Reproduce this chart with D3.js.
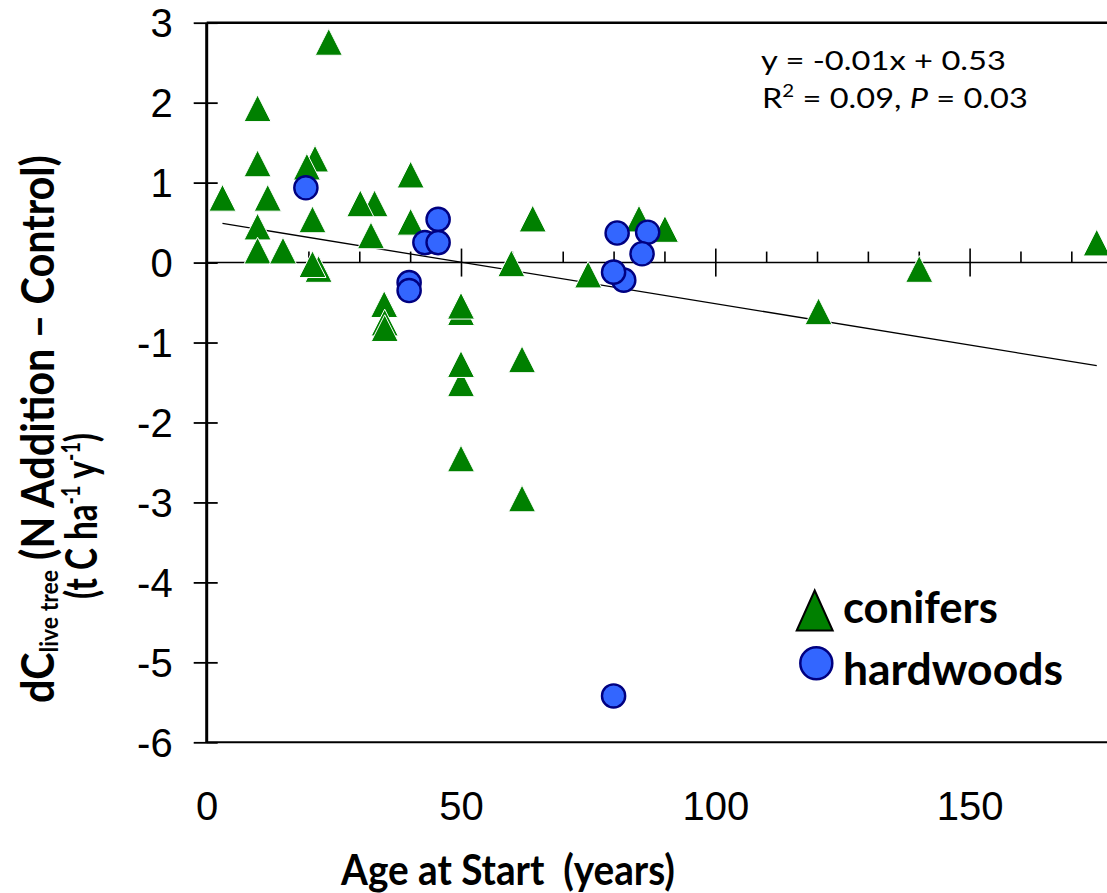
<!DOCTYPE html>
<html>
<head>
<meta charset="utf-8">
<script src="https://cdn.jsdelivr.net/npm/d3@7"></script>
<style>
  html, body { margin: 0; padding: 0; background: #fff; overflow: hidden; }
  svg { display: block; }
  text { white-space: pre; }
</style>
</head>
<body>
<svg></svg>
<script>
// conifers (triangles)
let coniferAge   = [3.1, 10, 10, 10, 10, 12, 15, 21.3, 19.7, 20.8, 22, 20.8, 24, 33, 30.2, 32.3, 34.9, 35, 35, 40.1, 40.1, 50, 50, 50, 50, 50, 59.9, 62, 62, 64.1, 75, 85, 90.1, 120.3, 140.1, 175];
let coniferDelta = [0.81, 1.93, 1.24, 0.45, 0.15, 0.81, 0.15, 1.30, 1.20, 0.54, -0.08, -0.02, 2.76, 0.74, 0.74, 0.34, -0.52, -0.75, -0.82, 1.10, 0.51, -0.62, -0.54, -1.51, -1.27, -2.45, -0.01, -1.21, -2.95, 0.55, -0.15, 0.55, 0.42, -0.61, -0.08, 0.25];

// hardwoods (circles)
let hardwoodAge   = [19.5, 39.8, 39.8, 42.9, 45.5, 45.5, 80.7, 86.7, 85.6, 82.0, 80.0, 80.0];
let hardwoodDelta = [0.935, -0.25, -0.35, 0.25, 0.54, 0.25, 0.37, 0.38, 0.11, -0.22, -0.12, -5.42];

// regression line end points
let trendAge   = [3.1, 175];
let trendDelta = [0.49, -1.29];

let xTicks = [0, 50, 100, 150];
let xMinorTicks = [10, 20, 30, 40, 50, 60, 70, 80, 90, 100, 110, 120, 130, 140, 150, 160, 170];
let yTicks = [-6, -5, -4, -3, -2, -1, 0, 1, 2, 3];

let width = 1107;
let height = 893;
let plotLeft = 206.7;
let plotTop = 22.7;
let plotBottom = 742.3;
let pxPerYear = 5.086;

let svg = d3.select('svg');
let xScale, yScale, xAxis, yAxis, zeroAxis;

const drawCanvas = () => {
    svg.attr('width', width)
       .attr('height', height);
};

const generateScales = () => {
    xScale = d3.scaleLinear()
               .domain([0, 180])
               .range([plotLeft, plotLeft + 180 * pxPerYear]);
    yScale = d3.scaleLinear()
               .domain([-6, 3])
               .range([plotBottom, plotTop]);
};

const generateAxes = () => {
    xAxis = d3.axisBottom(xScale).tickValues(xTicks).tickSize(0).tickFormat(d => String(d));
    yAxis = d3.axisLeft(yScale).tickValues(yTicks).tickSize(13).tickFormat(d => String(d));
    zeroAxis = d3.axisBottom(xScale).tickValues(xMinorTicks).tickSize(0).tickFormat('');
};

const drawFrame = () => {
    // plot border (right side falls outside the picture)
    svg.append('line')
       .attr('x1', plotLeft).attr('x2', xScale(180))
       .attr('y1', plotTop).attr('y2', plotTop)
       .attr('stroke', '#000').attr('stroke-width', 2.5);
    svg.append('line')
       .attr('x1', plotLeft).attr('x2', xScale(180))
       .attr('y1', plotBottom).attr('y2', plotBottom)
       .attr('stroke', '#000').attr('stroke-width', 2);

    // labels of the x axis sit under the plot
    let gx = svg.append('g')
       .attr('transform', 'translate(0,' + plotBottom + ')')
       .call(xAxis);
    gx.select('.domain').remove();
    gx.selectAll('text')
      .attr('y', 78).attr('dy', 0)
      .attr('font-family', '"Liberation Sans", Arial, sans-serif')
      .attr('font-size', 40)
      .attr('fill', '#000');

    // axis through zero, minor ticks up, major ticks across
    let gz = svg.append('g')
       .attr('transform', 'translate(0,' + yScale(0) + ')')
       .call(zeroAxis);
    gz.select('.domain')
      .attr('d', 'M' + plotLeft + ',0H' + xScale(180))
      .attr('stroke', '#000').attr('stroke-width', 1.6);
    gz.selectAll('.tick line')
      .attr('stroke', '#000').attr('stroke-width', 1.6)
      .attr('y1', d => d % 50 === 0 ? -14 : -11)
      .attr('y2', d => d % 50 === 0 ? 14 : 0);

    let gy = svg.append('g')
       .attr('transform', 'translate(' + plotLeft + ',0)')
       .call(yAxis);
    gy.select('.domain')
      .attr('d', 'M0,' + plotTop + 'V' + plotBottom)
      .attr('stroke', '#000').attr('stroke-width', 3);
    gy.selectAll('.tick line')
      .attr('x1', 11).attr('x2', -13)
      .attr('stroke', '#000').attr('stroke-width', 1.8);
    gy.selectAll('text')
      .attr('x', -34).attr('dy', '0.35em')
      .attr('font-family', '"Liberation Sans", Arial, sans-serif')
      .attr('font-size', 40)
      .attr('fill', '#000');
};

const triangle = (w, h) => 'M0,' + (-h / 2) + 'L' + (w / 2) + ',' + (h / 2) + 'L' + (-w / 2) + ',' + (h / 2) + 'Z';

const drawPoints = () => {
    svg.append('line')
       .attr('x1', xScale(trendAge[0])).attr('y1', yScale(trendDelta[0]))
       .attr('x2', xScale(trendAge[1])).attr('y2', yScale(trendDelta[1]))
       .attr('stroke', '#000').attr('stroke-width', 1.3);

    svg.selectAll('path.conifer')
       .data(d3.range(coniferAge.length))
       .enter()
       .append('path')
       .attr('class', 'conifer')
       .attr('d', triangle(27, 26.7))
       .attr('transform', i => 'translate(' + xScale(coniferAge[i]) + ',' + yScale(coniferDelta[i]) + ')')
       .attr('fill', '#008000')
       .attr('stroke', '#fff')
       .attr('stroke-width', 1);

    svg.selectAll('circle.hardwood')
       .data(d3.range(hardwoodAge.length))
       .enter()
       .append('circle')
       .attr('class', 'hardwood')
       .attr('cx', i => xScale(hardwoodAge[i]))
       .attr('cy', i => yScale(hardwoodDelta[i]))
       .attr('r', 11.6)
       .attr('fill', '#3366ff')
       .attr('stroke', '#000080')
       .attr('stroke-width', 2.4);
};

// put a text group at x,y and squeeze it to the wanted length
const fit = (g, x, y, rot, target) => {
    let w = g.node().getBBox().width;
    g.attr('transform', 'translate(' + x + ',' + y + ') rotate(' + rot + ') scale(' + (target / w) + ',1)');
};

const drawTexts = () => {
    const lato = 'Lato, "Open Sans", sans-serif';

    // legend
    svg.append('path')
       .attr('d', triangle(36, 40))
       .attr('transform', 'translate(814.7,610.5)')
       .attr('fill', '#008000').attr('stroke', '#000').attr('stroke-width', 2);
    svg.append('circle')
       .attr('cx', 816.3).attr('cy', 663.3).attr('r', 16)
       .attr('fill', '#3366ff').attr('stroke', '#000080').attr('stroke-width', 2.5);

    let leg1 = svg.append('g');
    leg1.append('text').attr('font-family', lato).attr('font-weight', 700).attr('font-size', 43).text('conifers');
    fit(leg1, 843, 623.3, 0, 155);
    let leg2 = svg.append('g');
    leg2.append('text').attr('font-family', lato).attr('font-weight', 700).attr('font-size', 43).text('hardwoods');
    fit(leg2, 843, 685, 0, 220);

    // equation
    let eq1 = svg.append('g');
    eq1.append('text').attr('font-family', lato).attr('font-size', 27).attr('fill', '#000').text('y = -0.01x + 0.53');
    fit(eq1, 761, 70, 0, 245);

    let eq2 = svg.append('g');
    let t2 = eq2.append('text').attr('font-family', lato).attr('font-size', 27).attr('fill', '#000');
    t2.append('tspan').text('R');
    t2.append('tspan').attr('font-size', 17).attr('dy', -11).text('2');
    t2.append('tspan').attr('dy', 11).text(' = 0.09, ');
    t2.append('tspan').attr('font-style', 'italic').text('P');
    t2.append('tspan').text(' = 0.03');
    fit(eq2, 762, 108.3, 0, 266);

    // x title
    let xt = svg.append('g');
    xt.append('text').attr('font-family', lato).attr('font-weight', 700).attr('font-size', 42).attr('fill', '#000').text('Age at Start  (years)');
    fit(xt, 341, 885, 0, 335);

    // y title, two lines
    let yt1 = svg.append('g');
    let y1 = yt1.append('text').attr('font-family', lato).attr('font-weight', 700).attr('font-size', 45).attr('fill', '#000');
    y1.append('tspan').text('dC');
    y1.append('tspan').attr('font-size', 25).attr('dy', 4).text('live tree');
    y1.append('tspan').attr('dy', -4).text(' (N Addition \u2013 Control)');
    fit(yt1, 54, 703, -90, 548);

    let yt2 = svg.append('g');
    let y2 = yt2.append('text').attr('font-family', lato).attr('font-weight', 700).attr('font-size', 44).attr('fill', '#000');
    y2.append('tspan').text('(t C ha');
    y2.append('tspan').attr('font-size', 26).attr('dy', -17).text('-1');
    y2.append('tspan').attr('dy', 17).text(' y');
    y2.append('tspan').attr('font-size', 26).attr('dy', -17).text('-1');
    y2.append('tspan').attr('dy', 17).text(')');
    fit(yt2, 97, 599, -90, 166);
};

const draw = () => {
    drawCanvas();
    generateScales();
    generateAxes();
    drawFrame();
    drawPoints();
    drawTexts();
};

document.fonts.ready.then(draw);
</script>
</body>
</html>
